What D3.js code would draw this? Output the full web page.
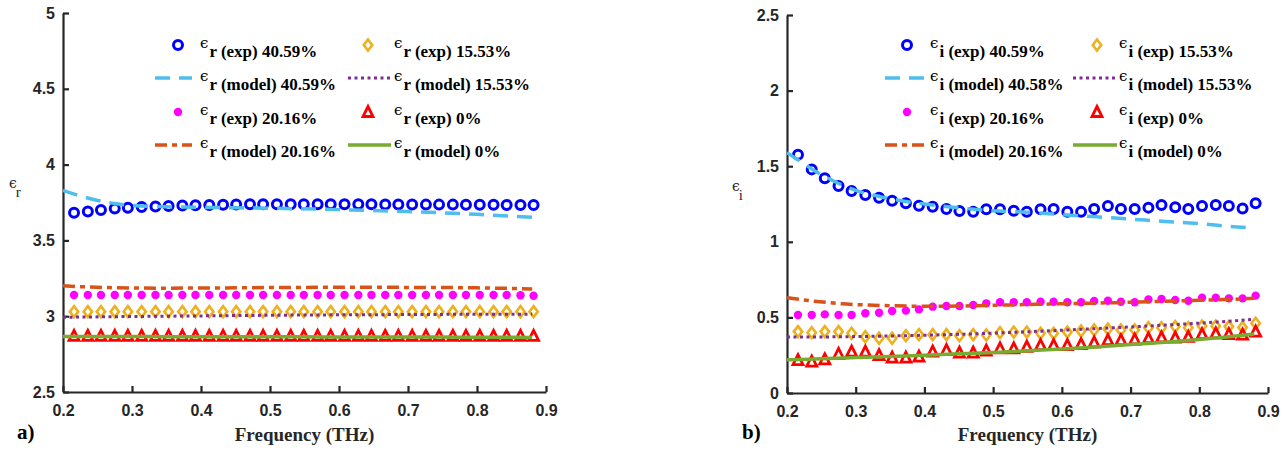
<!DOCTYPE html>
<html>
<head>
<meta charset="utf-8">
<script src="https://cdn.jsdelivr.net/npm/d3@7"></script>
<style>
  body { margin: 0; background: #fff; }
  svg { display: block; }
</style>
</head>
<body>
<div id="chart"></div>
<script>
// measured frequencies (THz) of the experimental points
const freqExp = [0.216, 0.236, 0.255, 0.275, 0.294, 0.314, 0.334, 0.353, 0.373, 0.392,
  0.412, 0.432, 0.451, 0.471, 0.490, 0.510, 0.530, 0.549, 0.569, 0.588,
  0.608, 0.628, 0.647, 0.667, 0.686, 0.706, 0.726, 0.745, 0.765, 0.784,
  0.804, 0.824, 0.843, 0.863, 0.882];
// frequencies of the model curves
const freqModel = [0.20, 0.22, 0.24, 0.26, 0.28, 0.30, 0.35, 0.40, 0.45, 0.50,
  0.55, 0.60, 0.65, 0.70, 0.75, 0.80, 0.85, 0.88];

const xTicks = [0.2, 0.3, 0.4, 0.5, 0.6, 0.7, 0.8, 0.9];
const erTicks = [2.5, 3, 3.5, 4, 4.5, 5];
const eiTicks = [0, 0.5, 1, 1.5, 2, 2.5];

// a) real part
const erExp40 = [3.683, 3.690, 3.700, 3.710, 3.716, 3.720, 3.724, 3.727, 3.730, 3.732,
  3.734, 3.735, 3.737, 3.738, 3.738, 3.738, 3.738, 3.738, 3.738, 3.738,
  3.738, 3.738, 3.738, 3.737, 3.737, 3.737, 3.736, 3.736, 3.736, 3.735,
  3.735, 3.735, 3.734, 3.734, 3.733];
const erModel40 = [3.830, 3.800, 3.775, 3.755, 3.740, 3.730, 3.722, 3.718, 3.715, 3.712,
  3.708, 3.703, 3.697, 3.690, 3.682, 3.672, 3.660, 3.652];
const erExp20 = [3.140, 3.140, 3.140, 3.140, 3.140, 3.140, 3.140, 3.140, 3.140, 3.140,
  3.140, 3.140, 3.140, 3.140, 3.140, 3.140, 3.140, 3.140, 3.140, 3.140,
  3.140, 3.140, 3.140, 3.140, 3.140, 3.140, 3.140, 3.140, 3.140, 3.140,
  3.140, 3.140, 3.140, 3.138, 3.135];
const erModel20 = [3.201, 3.196, 3.192, 3.189, 3.187, 3.186, 3.185, 3.186, 3.187, 3.189,
  3.190, 3.191, 3.191, 3.190, 3.189, 3.187, 3.183, 3.180];
const erExp15 = [3.030, 3.030, 3.030, 3.030, 3.030, 3.030, 3.030, 3.030, 3.030, 3.030,
  3.030, 3.030, 3.030, 3.030, 3.030, 3.030, 3.030, 3.030, 3.030, 3.030,
  3.030, 3.030, 3.030, 3.030, 3.030, 3.030, 3.030, 3.030, 3.030, 3.030,
  3.030, 3.030, 3.030, 3.030, 3.030];
const erModel15 = [2.993, 2.994, 2.995, 2.996, 2.997, 2.998, 3.000, 3.002, 3.004, 3.006,
  3.008, 3.009, 3.010, 3.011, 3.012, 3.013, 3.013, 3.014];
const erExp0 = [2.870, 2.870, 2.870, 2.870, 2.870, 2.870, 2.870, 2.870, 2.870, 2.870,
  2.870, 2.870, 2.870, 2.870, 2.870, 2.870, 2.870, 2.870, 2.870, 2.870,
  2.870, 2.870, 2.870, 2.870, 2.870, 2.870, 2.870, 2.870, 2.870, 2.870,
  2.870, 2.870, 2.870, 2.870, 2.870];
const erModel0 = [2.866, 2.866, 2.866, 2.866, 2.866, 2.866, 2.865, 2.865, 2.865, 2.864,
  2.864, 2.863, 2.863, 2.862, 2.862, 2.861, 2.861, 2.860];

// b) imaginary part
const eiExp40 = [1.575, 1.479, 1.420, 1.369, 1.336, 1.310, 1.292, 1.272, 1.255, 1.239,
  1.232, 1.217, 1.204, 1.199, 1.215, 1.215, 1.206, 1.199, 1.215, 1.217,
  1.199, 1.199, 1.217, 1.237, 1.217, 1.217, 1.226, 1.243, 1.228, 1.217,
  1.237, 1.243, 1.237, 1.221, 1.255];
const eiModel40 = [1.590, 1.530, 1.470, 1.420, 1.375, 1.340, 1.285, 1.250, 1.225, 1.205,
  1.195, 1.180, 1.165, 1.150, 1.135, 1.120, 1.100, 1.090];
const eiExp20 = [0.516, 0.516, 0.520, 0.516, 0.516, 0.527, 0.531, 0.542, 0.545, 0.553,
  0.571, 0.575, 0.575, 0.582, 0.593, 0.600, 0.600, 0.600, 0.604, 0.604,
  0.600, 0.600, 0.608, 0.610, 0.604, 0.600, 0.619, 0.622, 0.615, 0.610,
  0.630, 0.630, 0.626, 0.626, 0.644];
const eiModel20 = [0.630, 0.618, 0.607, 0.598, 0.590, 0.585, 0.577, 0.574, 0.575, 0.580,
  0.585, 0.590, 0.595, 0.600, 0.607, 0.613, 0.620, 0.626];
const eiExp15 = [0.406, 0.399, 0.406, 0.406, 0.395, 0.372, 0.362, 0.362, 0.379, 0.386,
  0.386, 0.386, 0.379, 0.386, 0.384, 0.399, 0.403, 0.403, 0.395, 0.395,
  0.403, 0.410, 0.417, 0.423, 0.417, 0.417, 0.432, 0.432, 0.439, 0.432,
  0.443, 0.443, 0.439, 0.434, 0.461];
const eiModel15 = [0.370, 0.370, 0.370, 0.371, 0.372, 0.373, 0.377, 0.382, 0.388, 0.396,
  0.405, 0.415, 0.426, 0.437, 0.449, 0.462, 0.477, 0.487];
const eiExp0 = [0.218, 0.207, 0.223, 0.258, 0.273, 0.273, 0.251, 0.234, 0.234, 0.240,
  0.273, 0.284, 0.267, 0.267, 0.280, 0.295, 0.295, 0.306, 0.317, 0.317,
  0.317, 0.324, 0.335, 0.350, 0.350, 0.354, 0.362, 0.368, 0.366, 0.372,
  0.390, 0.395, 0.390, 0.386, 0.406];
const eiModel0 = [0.220, 0.222, 0.225, 0.228, 0.231, 0.234, 0.242, 0.250, 0.259, 0.268,
  0.279, 0.291, 0.305, 0.320, 0.336, 0.354, 0.375, 0.390];

const erLabels = ['r (exp) 40.59%', 'r (model) 40.59%', 'r (exp) 20.16%', 'r (model) 20.16%',
  'r (exp) 15.53%', 'r (model) 15.53%', 'r (exp) 0%', 'r (model) 0%'];
const eiLabels = ['i (exp) 40.59%', 'i (model) 40.58%', 'i (exp) 20.16%', 'i (model) 20.16%',
  'i (exp) 15.53%', 'i (model) 15.53%', 'i (exp) 0%', 'i (model) 0%'];

const axisColor = '#262626';
const sansFont = '"Liberation Sans", Arial, sans-serif';
const serifFont = '"Liberation Serif", "Times New Roman", serif';
const epsFont = '"DejaVu Serif", serif';

// series styles, in plotting order
const styles = [
  { kind: 'circle', color: '#0000ff' },
  { kind: 'line', color: '#4dbeee', dash: '15,9' },
  { kind: 'dot', color: '#ff00ff' },
  { kind: 'line', color: '#d95319', dash: '12,5,5,5' },
  { kind: 'diamond', color: '#edb120' },
  { kind: 'line', color: '#7e2f8e', dash: '3,3.5', width: 3 },
  { kind: 'triangle', color: '#ff0000' },
  { kind: 'line', color: '#77ac30' }
];

const svg = d3.select('#chart').append('svg')
  .attr('width', 1288)
  .attr('height', 450);

function drawMarker(sel, kind, color) {
  if (kind === 'circle') {
    sel.append('circle').attr('r', 4.5).attr('fill', 'none')
      .attr('stroke', color).attr('stroke-width', 3);
  } else if (kind === 'dot') {
    sel.append('circle').attr('r', 4.2).attr('fill', color);
  } else if (kind === 'diamond') {
    sel.append('path').attr('d', 'M0,-5.5L4.2,0L0,5.5L-4.2,0Z')
      .attr('fill', 'white').attr('stroke', color).attr('stroke-width', 2.6);
  } else if (kind === 'triangle') {
    sel.append('path').attr('d', 'M0,-5.5L5,4.5L-5,4.5Z')
      .attr('fill', 'white').attr('stroke', color).attr('stroke-width', 2.8)
      .attr('stroke-linejoin', 'miter');
  }
}

// epsilon with a subscript, kept in one text element
function epsLabel(g, xPos, yPos, sub, o) {
  const t = g.append('text').attr('x', xPos).attr('y', yPos).attr('fill', o.fill || 'black');
  t.append('tspan')
    .style('font-family', epsFont).style('font-size', o.epsSize + 'px')
    .text('\u03f5');
  t.append('tspan')
    .attr('dx', o.dx).attr('dy', o.dy)
    .style('font-family', serifFont).style('font-size', o.subSize + 'px')
    .style('font-weight', o.bold ? 'bold' : 'normal')
    .text(sub);
}

function drawPanel(opt) {
  const g = svg.append('g');
  const x = d3.scaleLinear().domain([0.2, 0.9]).range([opt.left, opt.right]);
  const y = d3.scaleLinear().domain(opt.yDomain).range([opt.bottom, opt.top]);

  const xAxis = g.append('g')
    .attr('transform', `translate(0,${opt.bottom})`)
    .call(d3.axisBottom(x).tickValues(xTicks).tickFormat(d3.format('.1f'))
      .tickSizeInner(-6).tickSizeOuter(0).tickPadding(13));
  const yAxis = g.append('g')
    .attr('transform', `translate(${opt.left},0)`)
    .call(d3.axisLeft(y).tickValues(opt.yTicks).tickFormat(d => d)
      .tickSizeInner(-6).tickSizeOuter(0).tickPadding(8));

  [xAxis, yAxis].forEach(a => {
    a.select('.domain').attr('stroke', axisColor).attr('stroke-width', 2.2);
    a.selectAll('.tick line').attr('stroke', axisColor).attr('stroke-width', 2.2);
    a.selectAll('.tick text')
      .attr('fill', axisColor)
      .style('font-family', sansFont)
      .style('font-size', '16px')
      .style('font-weight', 'bold');
  });

  // series
  const line = d3.line().x(d => x(d[0])).y(d => y(d[1])).curve(d3.curveMonotoneX);
  opt.series.forEach((vals, i) => {
    const st = styles[i];
    if (st.kind === 'line') {
      g.append('path')
        .datum(d3.zip(freqModel, vals))
        .attr('d', line)
        .attr('fill', 'none')
        .attr('stroke', st.color)
        .attr('stroke-width', st.width || 3.5)
        .attr('stroke-dasharray', st.dash || null);
    } else {
      g.append('g').selectAll('g')
        .data(d3.zip(freqExp, vals))
        .join('g')
        .attr('transform', d => `translate(${x(d[0])},${y(d[1])})`)
        .each(function () { drawMarker(d3.select(this), st.kind, st.color); });
    }
  });

  // legend, two columns of four rows
  const rowY = [45, 78, 112, 145];
  opt.labels.forEach((label, i) => {
    const col = Math.floor(i / 4);
    const ry = rowY[i % 4];
    const st = styles[i];
    const lg = opt.legend[col];
    if (st.kind === 'line') {
      g.append('line')
        .attr('x1', lg.l1).attr('x2', lg.l2).attr('y1', ry).attr('y2', ry)
        .attr('stroke', st.color)
        .attr('stroke-width', st.width || 3.5)
        .attr('stroke-dasharray', st.dash || null);
    } else {
      const mg = g.append('g').attr('transform', `translate(${lg.m},${ry})`);
      drawMarker(mg, st.kind, st.color);
    }
    epsLabel(g, lg.t - 3, ry + 3, label, { epsSize: 15, subSize: 17, dx: 1, dy: 9, bold: true });
  });

  // axis labels
  g.append('text')
    .attr('x', (opt.left + opt.right) / 2).attr('y', 441)
    .attr('text-anchor', 'middle')
    .attr('fill', axisColor)
    .style('font-family', serifFont).style('font-size', '19px').style('font-weight', 'bold')
    .text('Frequency (THz)');
  epsLabel(g, opt.yLabelX, opt.yLabelY, opt.sub,
    { epsSize: 14, subSize: 15, dx: -1, dy: 9, fill: axisColor });
  g.append('text')
    .attr('x', opt.tagX).attr('y', 439)
    .style('font-family', serifFont).style('font-size', '21px').style('font-weight', 'bold')
    .text(opt.tag);
}

drawPanel({
  left: 63, right: 546, top: 13, bottom: 392,
  yDomain: [2.5, 5], yTicks: erTicks,
  series: [erExp40, erModel40, erExp20, erModel20, erExp15, erModel15, erExp0, erModel0],
  labels: erLabels,
  legend: [{ m: 178, l1: 155, l2: 192, t: 203 }, { m: 368, l1: 348, l2: 391, t: 397 }],
  yLabelX: 9, yLabelY: 188, sub: 'r',
  tag: 'a)', tagX: 17
});

drawPanel({
  left: 787, right: 1268, top: 15, bottom: 393,
  yDomain: [0, 2.5], yTicks: eiTicks,
  series: [eiExp40, eiModel40, eiExp20, eiModel20, eiExp15, eiModel15, eiExp0, eiModel0],
  labels: eiLabels,
  legend: [{ m: 907, l1: 885, l2: 927, t: 933 }, { m: 1097, l1: 1073, l2: 1117, t: 1122 }],
  yLabelX: 732, yLabelY: 191, sub: 'i',
  tag: 'b)', tagX: 742
});
</script>
</body>
</html>
